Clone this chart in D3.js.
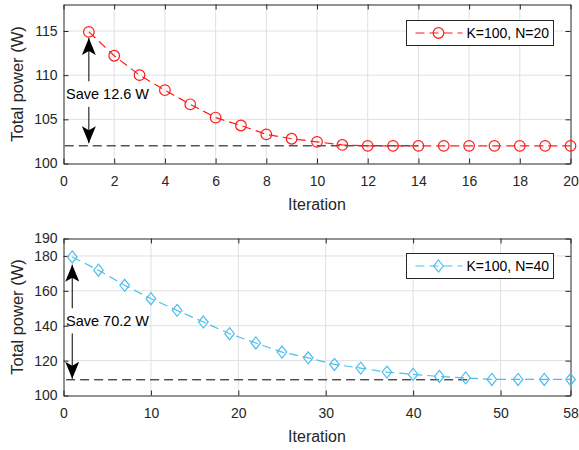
<!DOCTYPE html>
<html>
<head>
<meta charset="utf-8">
<script src="https://cdn.jsdelivr.net/npm/d3@7"></script>
<style>
body { margin: 0; background: #fff; }
svg { font-family: "Liberation Sans", Arial, sans-serif; }
</style>
</head>
<body>
<div id="viz"></div>
<script>
// data
iterA = [1, 2, 3, 4, 5, 6, 7, 8, 9, 10, 11, 12, 13, 14, 15, 16, 17, 18, 19, 20];
powerA = [114.9, 112.2, 110.0, 108.3, 106.7, 105.2, 104.3, 103.3, 102.8, 102.45, 102.1, 102.0, 102.0, 102.0, 102.0, 102.0, 102.0, 102.0, 102.0, 102.0];
iterB = [1, 4, 7, 10, 13, 16, 19, 22, 25, 28, 31, 34, 37, 40, 43, 46, 49, 52, 55, 58];
powerB = [179.4, 171.8, 163.2, 155.5, 148.8, 142.1, 135.4, 130.1, 124.9, 121.6, 117.8, 115.7, 113.4, 112.1, 110.9, 110.1, 109.2, 109.2, 109.2, 109.2];

xTicksA = [0, 2, 4, 6, 8, 10, 12, 14, 16, 18, 20];
yTicksA = [100, 105, 110, 115];
xTicksB = [0, 10, 20, 30, 40, 50, 58];
yTicksB = [100, 120, 140, 160, 180, 190];

labelA = "K=100, N=20";
labelB = "K=100, N=40";
saveA = "Save 12.6 W";
saveB = "Save 70.2 W";

width = 579;
height = 450;
axisCol = "#262626";
gridCol = "#e0e0e0";

svg = d3.select("#viz").append("svg")
	.attr("width", width)
	.attr("height", height);

svg.append("defs").append("marker")
	.attr("id", "head")
	.attr("viewBox", "0 0 17 14")
	.attr("refX", 17)
	.attr("refY", 7)
	.attr("markerWidth", 17)
	.attr("markerHeight", 14)
	.attr("markerUnits", "userSpaceOnUse")
	.attr("orient", "auto")
	.append("path")
	.attr("d", "M0,0 L17,7 L0,14 L4,7 Z")
	.attr("fill", "black");

function panel(cfg) {
	var x = d3.scaleLinear().domain(cfg.xDom).range([63.5, 570.5]);
	var y = d3.scaleLinear().domain(cfg.yDom).range([cfg.bottom, cfg.top]);
	var g = svg.append("g");

	// grid
	g.selectAll(".gx").data(cfg.xTicks.filter(function(d){ return d > cfg.xDom[0] && d < cfg.xDom[1]; }))
		.enter().append("line")
		.attr("x1", function(d){ return x(d); }).attr("x2", function(d){ return x(d); })
		.attr("y1", cfg.top).attr("y2", cfg.bottom)
		.attr("stroke", gridCol).attr("stroke-width", 1);
	g.selectAll(".gy").data(cfg.yTicks.filter(function(d){ return d > cfg.yDom[0] && d < cfg.yDom[1]; }))
		.enter().append("line")
		.attr("y1", function(d){ return y(d); }).attr("y2", function(d){ return y(d); })
		.attr("x1", x.range()[0]).attr("x2", x.range()[1])
		.attr("stroke", gridCol).attr("stroke-width", 1);

	// axes (ticks inside, box on)
	var ax = [
		[d3.axisBottom(x), cfg.bottom, true, "x"],
		[d3.axisTop(x), cfg.top, false, "x"],
		[d3.axisLeft(y), x.range()[0], true, "y"],
		[d3.axisRight(y), x.range()[1], false, "y"]
	];
	ax.forEach(function(a) {
		var axis = a[0].tickValues(a[3] == "x" ? cfg.xTicks : cfg.yTicks)
			.tickSizeInner(-5).tickSizeOuter(0).tickPadding(a[3] == "x" ? 12.5 : 6);
		if (!a[2]) axis.tickFormat("");
		var sel = g.append("g")
			.attr("transform", a[3] == "x" ? "translate(0," + a[1] + ")" : "translate(" + a[1] + ",0)")
			.call(axis);
		sel.select(".domain").attr("stroke", axisCol);
		sel.selectAll(".tick line").attr("stroke", axisCol);
		sel.selectAll("text").attr("fill", axisCol).style("font-size", "14px");
	});

	g.append("text")
		.attr("x", (x.range()[0] + x.range()[1]) / 2)
		.attr("y", cfg.bottom + 46)
		.attr("text-anchor", "middle")
		.attr("fill", axisCol)
		.style("font-size", "16px")
		.text("Iteration");

	g.append("text")
		.attr("transform", "translate(23," + ((cfg.top + cfg.bottom) / 2) + ") rotate(-90)")
		.attr("text-anchor", "middle")
		.attr("fill", axisCol)
		.style("font-size", "16.5px")
		.text("Total power (W)");

	// reference line
	g.append("line")
		.attr("x1", x(cfg.refFrom)).attr("x2", x(cfg.refTo))
		.attr("y1", y(cfg.ref)).attr("y2", y(cfg.ref))
		.attr("stroke", "black").attr("stroke-width", 1)
		.attr("stroke-dasharray", "9,5");

	// series
	var line = d3.line()
		.x(function(d, i){ return x(cfg.xs[i]); })
		.y(function(d){ return y(d); });
	g.append("path").datum(cfg.ys)
		.attr("d", line)
		.attr("fill", "none")
		.attr("stroke", cfg.color)
		.attr("stroke-width", 1.2)
		.attr("stroke-dasharray", "9,5");
	g.selectAll(".mk").data(cfg.ys).enter().append("path")
		.attr("transform", function(d, i){ return "translate(" + x(cfg.xs[i]) + "," + y(d) + ")"; })
		.attr("d", cfg.shape)
		.attr("fill", "none")
		.attr("stroke", cfg.color)
		.attr("stroke-width", 1.2);

	// annotation
	g.append("line")
		.attr("x1", x(cfg.arrowX)).attr("x2", x(cfg.arrowX))
		.attr("y1", y(cfg.upArrow[0])).attr("y2", y(cfg.upArrow[1]))
		.attr("stroke", "black").attr("stroke-width", 1)
		.attr("marker-end", "url(#head)");
	g.append("line")
		.attr("x1", x(cfg.arrowX)).attr("x2", x(cfg.arrowX))
		.attr("y1", y(cfg.downArrow[0])).attr("y2", y(cfg.downArrow[1]))
		.attr("stroke", "black").attr("stroke-width", 1)
		.attr("marker-end", "url(#head)");
	g.append("text")
		.attr("x", 66)
		.attr("y", y(cfg.textY))
		.attr("dy", "0.35em")
		.attr("fill", "black")
		.style("font-size", "14.5px")
		.text(cfg.save);

	// legend
	var lg = g.append("g").attr("transform", "translate(406.5," + cfg.legTop + ")");
	lg.append("rect")
		.attr("width", 147).attr("height", 25)
		.attr("fill", "white").attr("stroke", axisCol).attr("stroke-width", 1);
	lg.append("line")
		.attr("x1", 9).attr("x2", 56).attr("y1", 12.5).attr("y2", 12.5)
		.attr("stroke", cfg.color).attr("stroke-width", 1.2)
		.attr("stroke-dasharray", "9,5").attr("stroke-dashoffset", 0);
	lg.append("path")
		.attr("transform", "translate(32,12.5)")
		.attr("d", cfg.shape)
		.attr("fill", "none").attr("stroke", cfg.color).attr("stroke-width", 1.2);
	lg.append("text")
		.attr("x", 60).attr("y", 12.5).attr("dy", "0.35em")
		.attr("fill", "black")
		.style("font-size", "14px")
		.text(cfg.label);
}

circle = d3.symbol().type(d3.symbolCircle).size(Math.PI * 5.3 * 5.3)();
diamond = "M0,-6L4.8,0L0,6L-4.8,0Z";

panel({
	xDom: [0, 20], yDom: [100, 118], top: 4.5, bottom: 163.5,
	xTicks: xTicksA, yTicks: yTicksA, xs: iterA, ys: powerA,
	color: "#ff1a1a", shape: circle, label: labelA, legTop: 20.5,
	ref: 102.0, refFrom: 0.05, refTo: 14, arrowX: 1,
	upArrow: [109.3, 114.2], downArrow: [106.4, 102.3], textY: 107.9, save: saveA
});

panel({
	xDom: [0, 58], yDom: [100, 190], top: 238.5, bottom: 395.5,
	xTicks: xTicksB, yTicks: yTicksB, xs: iterB, ys: powerB,
	color: "#4dbeee", shape: diamond, label: labelB, legTop: 253.5,
	ref: 109.0, refFrom: 0.3, refTo: 46.5, arrowX: 1,
	upArrow: [150, 175], downArrow: [135.6, 109.6], textY: 142.5, save: saveB
});
</script>
</body>
</html>
